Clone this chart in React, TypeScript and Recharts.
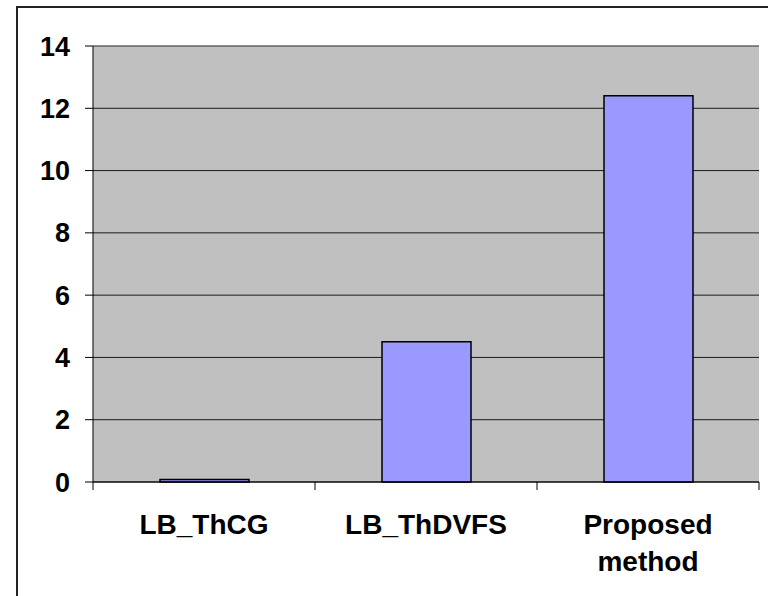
import { BarChart, Bar, XAxis, YAxis, CartesianGrid, ReferenceLine } from 'recharts';

const methods = ['LB_ThCG', 'LB_ThDVFS', 'Proposed method'];
const values = [0.08, 4.5, 12.4];
const yTicks = [0, 2, 4, 6, 8, 10, 12, 14];

const W = 768;
const H = 596;
const PLOT_LEFT = 93;
const PLOT_RIGHT = 759;
const PLOT_TOP = 46;
const PLOT_BOTTOM = 482;
const FONT = '"Liberation Sans", Arial, sans-serif';

const data = methods.map((name, i) => ({ name, value: values[i] }));

// category labels sit under the band, tick marks go on the band edges
function CategoryTick(props: any) {
  const { x, payload, index } = props;
  const band = (PLOT_RIGHT - PLOT_LEFT) / methods.length;
  const left = x - band / 2;
  const lines = String(payload.value).split(' ');
  return (
    <g>
      <line x1={left} x2={left} y1={PLOT_BOTTOM} y2={PLOT_BOTTOM + 8} stroke="#000" />
      {index === methods.length - 1 && (
        <line x1={left + band} x2={left + band} y1={PLOT_BOTTOM} y2={PLOT_BOTTOM + 8} stroke="#000" />
      )}
      <text x={x} y={PLOT_BOTTOM + 52} textAnchor="middle" fill="#000"
        style={{ fontFamily: FONT, fontSize: 28, fontWeight: 'bold' }}>
        {lines.map((l, i) => (
          <tspan key={i} x={x} dy={i === 0 ? 0 : 37}>{l}</tspan>
        ))}
      </text>
    </g>
  );
}

export default function App() {
  return (
    <div style={{ position: 'fixed', left: 0, top: 0, width: W, height: H, overflow: 'hidden', background: '#fff' }}>
      <div style={{ position: 'absolute', left: 16, top: 6, width: 900, height: 800, border: '2px solid #222' }} />
      <div style={{ position: 'absolute', left: 0, top: 0 }}>
        <BarChart width={W} height={H} data={data}
          margin={{ top: PLOT_TOP, right: W - PLOT_RIGHT, left: 0, bottom: 0 }}>
          <CartesianGrid yAxisId="left" vertical={false} stroke="#1a1a1a" fill="#C0C0C0" fillOpacity={1} />
          <XAxis dataKey="name" height={H - PLOT_BOTTOM} axisLine={{ stroke: '#000' }}
            tickLine={false} interval={0} tick={<CategoryTick />} />
          <YAxis yAxisId="left" width={PLOT_LEFT} domain={[0, 14]} ticks={yTicks} interval={0}
            axisLine={{ stroke: '#000' }} tickLine={{ stroke: '#000' }} tickSize={8} tickMargin={15}
            tick={{ fill: '#000', fontSize: 27, fontWeight: 'bold', fontFamily: FONT }} />
          <YAxis yAxisId="right" orientation="right" width={0} domain={[0, 14]} ticks={yTicks}
            axisLine={{ stroke: '#888' }} tickLine={false} tick={false} />
          <ReferenceLine yAxisId="left" y={14} stroke="#888" />
          <Bar yAxisId="left" dataKey="value" fill="#9999FF" stroke="#000" strokeWidth={1.5}
            barSize={89} isAnimationActive={false} />
        </BarChart>
      </div>
    </div>
  );
}
